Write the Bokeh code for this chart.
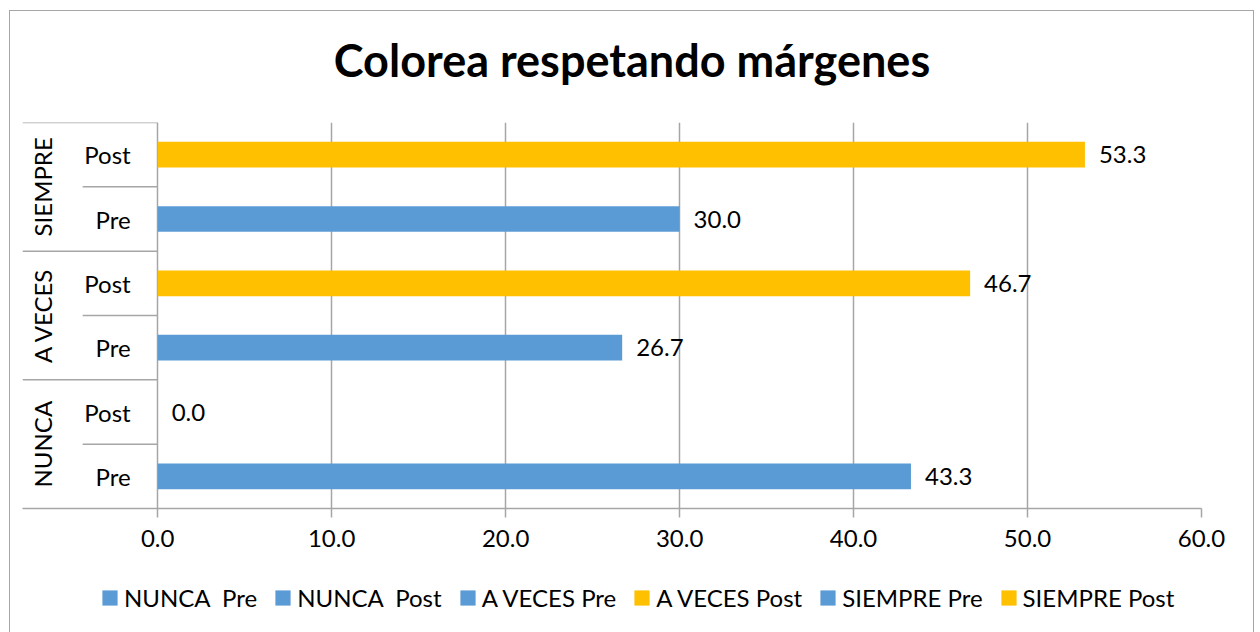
from bokeh.plotting import figure
from bokeh.layouts import column
from bokeh.models import (FactorRange, Range1d, ColumnDataSource, FixedTicker,
                          NumeralTickFormatter, Legend, LegendItem)
from bokeh.core.properties import value
from bokeh.embed import file_html
from bokeh.resources import INLINE
import math

# ---------------- data ----------------
title_text = "Colorea respetando márgenes"
groups = ["NUNCA", "A VECES", "SIEMPRE"]
subgroups = ["Pre", "Post"]
series_names = ["NUNCA  Pre", "NUNCA  Post", "A VECES Pre", "A VECES Post",
                "SIEMPRE Pre", "SIEMPRE Post"]
series_values = [43.3, 0.0, 26.7, 46.7, 30.0, 53.3]
series_colors = ["#5B9BD5", "#5B9BD5", "#5B9BD5", "#FFC000", "#5B9BD5", "#FFC000"]
x_ticks = [0, 10, 20, 30, 40, 50, 60]

FONT = "Lato"
GRID = "#A6A6A6"

factors = [(g, s) for g in groups for s in subgroups]

# label column extent (data units left of zero)
x_left = -7.77
sub_sep_x = -4.31
sub_label_x = -1.55
group_label_x = -6.62

W = 1243
BL, BR = 12, 52   # shared side borders (frames are aligned in the column)

# ---------------- title strip ----------------
t = figure(width=W, height=111, output_backend="svg", toolbar_location=None,
           x_range=Range1d(0, 1), y_range=Range1d(0, 1),
           x_axis_location=None, y_axis_location=None, min_border=0,
           min_border_left=BL, min_border_right=BR)
t.outline_line_color = None
t.grid.grid_line_color = None
t.text(x=[0.5], y=[0.56], text=[title_text], text_align="center",
       text_baseline="alphabetic", x_offset=20, text_font=value(FONT),
       text_font_style="bold", text_font_size="45px", text_color="black")

# ---------------- main chart ----------------
p = figure(width=W, height=446, output_backend="svg", toolbar_location=None,
           x_range=Range1d(x_left, x_ticks[-1]),
           y_range=FactorRange(factors=factors, factor_padding=0, group_padding=0,
                               subgroup_padding=0, range_padding=0),
           y_axis_location=None,
           min_border_left=BL, min_border_right=BR, min_border_top=0,
           min_border_bottom=60)
p.outline_line_color = None
p.background_fill_color = "white"
p.border_fill_color = "white"

# x axis
ax = p.xaxis[0]
ax.ticker = FixedTicker(ticks=x_ticks)
ax.formatter = NumeralTickFormatter(format="0.0")
ax.axis_line_color = GRID
ax.axis_line_width = 1.5
ax.major_tick_line_color = GRID
ax.major_tick_line_width = 1.5
ax.major_tick_out = 9
ax.major_tick_in = 0
ax.minor_tick_line_color = None
ax.major_label_text_font = FONT
ax.major_label_text_font_size = "24px"
ax.major_label_text_color = "black"
ax.major_label_standoff = 12

p.xgrid.ticker = FixedTicker(ticks=x_ticks)
p.xgrid.grid_line_color = GRID
p.xgrid.grid_line_width = 1.5
p.ygrid.grid_line_color = None

# bars, one renderer per series
for name, val, col, fac in zip(series_names, series_values, series_colors, factors):
    src = ColumnDataSource(dict(y=[fac], right=[val]))
    p.hbar(y="y", left=0, right="right", height=0.4, source=src,
           fill_color=col, line_color=None)

# value labels
p.text(x=series_values, y=factors, text=[f"{v:.1f}" for v in series_values],
       x_offset=14, text_baseline="middle", text_align="left",
       text_font=value(FONT), text_font_size="24px", text_color="black")

# sub-category labels
p.text(x=[sub_label_x] * len(factors), y=factors, text=[s for g, s in factors],
       text_baseline="middle", text_align="right",
       text_font=value(FONT), text_font_size="24px", text_color="black")

# group labels (rotated), placed at the centre of each group
n_sub = len(subgroups)
group_centres = [n_sub * i + n_sub / 2 for i in range(len(groups))]
p.text(x=[group_label_x] * len(groups), y=group_centres, text=groups, angle=math.pi / 2,
       text_baseline="middle", text_align="center",
       text_font=value(FONT), text_font_size="24px", text_color="black")

# separators of the category label box
grp_bounds = [n_sub * (i + 1) for i in range(len(groups))]
sub_bounds = [n_sub * i + k for i in range(len(groups)) for k in range(1, n_sub)]
p.segment(x0=[x_left] * len(grp_bounds), x1=[0] * len(grp_bounds),
          y0=grp_bounds, y1=grp_bounds, line_color=GRID, line_width=1.5)
p.segment(x0=[sub_sep_x] * len(sub_bounds), x1=[0] * len(sub_bounds),
          y0=sub_bounds, y1=sub_bounds, line_color=GRID, line_width=1.5)

# ---------------- legend strip ----------------
lg = figure(width=W, height=64, output_backend="svg", toolbar_location=None,
            x_range=Range1d(0, 1), y_range=Range1d(0, 1),
            x_axis_location=None, y_axis_location=None,
            min_border=0, min_border_left=BL, min_border_right=BR)
lg.outline_line_color = None
lg.grid.grid_line_color = None
items = []
for name, val, col in zip(series_names, series_values, series_colors):
    # proxy renderer kept outside the visible range: only its legend swatch shows
    r = lg.hbar(y=[-5], left=[0], right=[val], height=0.5, fill_color=col, line_color=None)
    items.append(LegendItem(label=name, renderers=[r]))
legend = Legend(items=items, orientation="horizontal", location=(78, 20),
                glyph_width=19, glyph_height=19, label_standoff=5, spacing=16,
                label_text_font=FONT, label_text_font_size="24px",
                label_text_color="black", border_line_color=None,
                background_fill_alpha=0, margin=0, padding=0)
lg.add_layout(legend, "center")

inner = column(t, p, lg, spacing=0,
               styles={"border": "1px solid #A6A6A6", "border-bottom": "none"})
layout = column(inner, spacing=0,
                styles={"padding": "10px 6px 0px 9px", "background-color": "white"})

open("out.html", "w").write(file_html(layout, INLINE))
